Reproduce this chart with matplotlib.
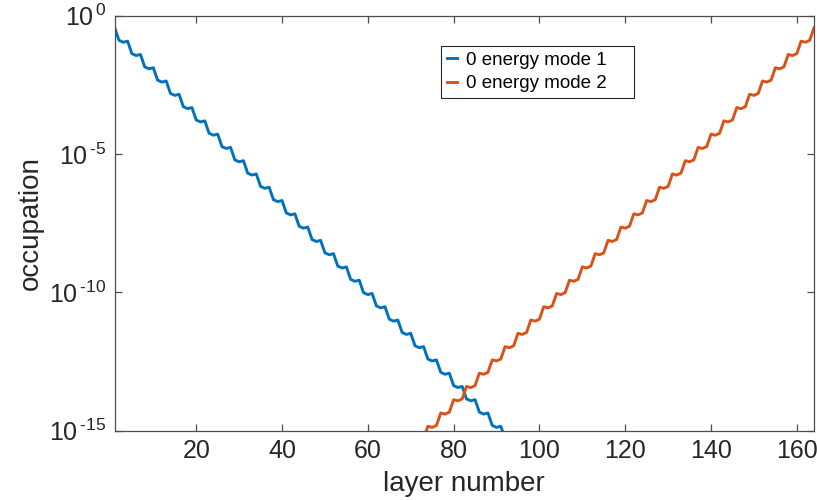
import matplotlib
matplotlib.use("Agg")
import matplotlib.pyplot as plt
import numpy as np
from matplotlib.ticker import NullLocator, FixedLocator

# ---- data (log10 of occupation) ----
layers_mode1 = list(range(1, 93))
log_occ_mode1 = [
    -0.44, -0.89, -0.96, -0.92, -1.37, -1.44, -1.40, -1.85, -1.92,
    -1.88, -2.33, -2.40, -2.36, -2.81, -2.88, -2.84, -3.29, -3.36,
    -3.32, -3.77, -3.84, -3.80, -4.25, -4.32, -4.28, -4.73, -4.80,
    -4.76, -5.21, -5.28, -5.24, -5.69, -5.76, -5.72, -6.17, -6.24,
    -6.20, -6.65, -6.72, -6.68, -7.13, -7.20, -7.16, -7.61, -7.68,
    -7.64, -8.09, -8.16, -8.12, -8.57, -8.64, -8.60, -9.05, -9.12,
    -9.08, -9.53, -9.60, -9.56, -10.01, -10.08, -10.04, -10.49, -10.56,
    -10.52, -10.97, -11.04, -11.00, -11.45, -11.52, -11.48, -11.93, -12.00,
    -11.96, -12.41, -12.48, -12.44, -12.89, -12.96, -12.92, -13.37, -13.44,
    -13.40, -13.85, -13.92, -13.88, -14.33, -14.40, -14.36, -14.81, -14.88,
    -14.84, -15.29,
]

layers_mode2 = list(range(73, 165))
log_occ_mode2 = [
    -15.29, -14.84,
    -14.88, -14.81, -14.36, -14.40, -14.33, -13.88, -13.92, -13.85, -13.40,
    -13.44, -13.37, -12.92, -12.96, -12.89, -12.44, -12.48, -12.41, -11.96,
    -12.00, -11.93, -11.48, -11.52, -11.45, -11.00, -11.04, -10.97, -10.52,
    -10.56, -10.49, -10.04, -10.08, -10.01, -9.56, -9.60, -9.53, -9.08,
    -9.12, -9.05, -8.60, -8.64, -8.57, -8.12, -8.16, -8.09, -7.64,
    -7.68, -7.61, -7.16, -7.20, -7.13, -6.68, -6.72, -6.65, -6.20,
    -6.24, -6.17, -5.72, -5.76, -5.69, -5.24, -5.28, -5.21, -4.76,
    -4.80, -4.73, -4.28, -4.32, -4.25, -3.80, -3.84, -3.77, -3.32,
    -3.36, -3.29, -2.84, -2.88, -2.81, -2.36, -2.40, -2.33, -1.88,
    -1.92, -1.85, -1.40, -1.44, -1.37, -0.92, -0.96, -0.89, -0.44,
]

series_labels = ["0 energy mode 1", "0 energy mode 2"]
x_ticks = [20, 40, 60, 80, 100, 120, 140, 160]
y_tick_exps = [0, -5, -10, -15]

# ---- style ----
plt.rcParams['font.family'] = ['Liberation Sans', 'DejaVu Sans']
plt.rcParams['mathtext.fontset'] = 'custom'
plt.rcParams['mathtext.rm'] = 'Liberation Sans'
plt.rcParams['mathtext.it'] = 'Liberation Sans'
plt.rcParams['mathtext.bf'] = 'Liberation Sans'

fig = plt.figure(figsize=(8.17, 5.0), dpi=100)
ax = fig.add_axes([0.1404, 0.1386, 0.8559, 0.8300])

c1 = '#0072BD'
c2 = '#D95319'
ax.semilogy(layers_mode1, 10.0 ** np.array(log_occ_mode1), color=c1, lw=2.1,
            label=series_labels[0])
ax.semilogy(layers_mode2, 10.0 ** np.array(log_occ_mode2), color=c2, lw=2.1,
            label=series_labels[1])

ax.set_xlim(1, 164)
ax.set_ylim(1e-15, 1e0)

ax.xaxis.set_major_locator(FixedLocator(x_ticks))
ax.set_xticklabels([str(t) for t in x_ticks])
ax.yaxis.set_major_locator(FixedLocator([10.0 ** e for e in y_tick_exps]))
ax.set_yticklabels([r'$10^{\,\text{%s}}$' % (('-%d' % -e) if e < 0 else '%d' % e)
                    for e in y_tick_exps])
ax.yaxis.set_minor_locator(NullLocator())
ax.xaxis.set_minor_locator(NullLocator())

axcol = '#4d4d4d'
for s in ax.spines.values():
    s.set_color(axcol)
    s.set_linewidth(0.9)
ax.tick_params(direction='in', top=True, right=True, length=5, width=0.9,
               color=axcol, labelsize=18, labelcolor='#262626', pad=6)

ax.set_xlabel('layer number', fontsize=20, color='#262626', labelpad=6)
ax.set_ylabel('occupation', fontsize=20, color='#262626', labelpad=4)

leg = ax.legend(loc='upper left', bbox_to_anchor=(0.4666, 0.804, 0.276, 0.123),
                mode='expand', borderaxespad=0, fontsize=13.5, frameon=True,
                fancybox=False, edgecolor='#262626', framealpha=1,
                handlelength=0.55, handletextpad=0.5, borderpad=0.3,
                labelspacing=0.35)
leg.get_frame().set_linewidth(0.8)
for t in leg.get_texts():
    t.set_color('#000000')

fig.savefig('out.png', dpi=100)
